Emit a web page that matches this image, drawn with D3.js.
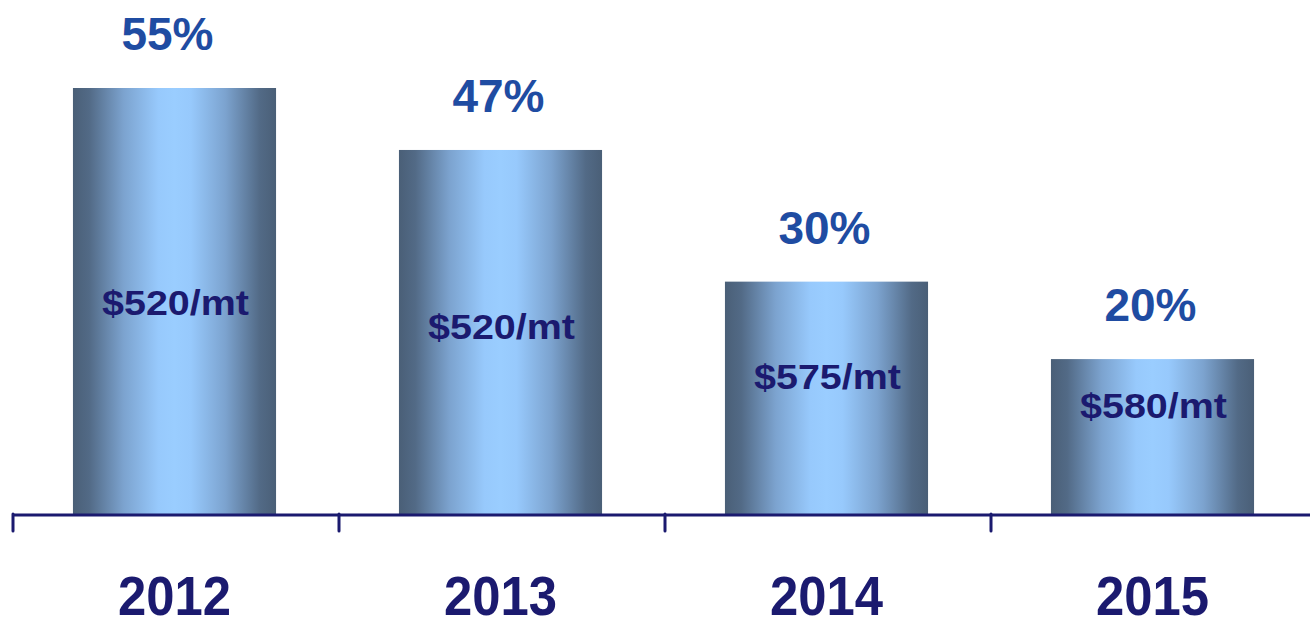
<!DOCTYPE html>
<html>
<head>
<meta charset="utf-8">
<script src="https://cdn.jsdelivr.net/npm/d3@7"></script>
<style>
  html, body { margin: 0; padding: 0; background: #ffffff; }
  svg { display: block; }
  text { font-family: Arial, "Liberation Sans", Helvetica, sans-serif; font-weight: bold; }
</style>
</head>
<body>
<svg id="chart" width="1310" height="622"></svg>
<script>
// Share of volume by year, with the average price per metric ton
const years = ["2012", "2013", "2014", "2015"];
const shares = [55, 47, 30, 20];
const prices = ["$520/mt", "$520/mt", "$575/mt", "$580/mt"];

const W = 1310, H = 622;
const svg = d3.select("#chart");

const x = d3.scaleBand().domain(years).range([13, 1317]).padding(0);
const y = d3.scaleLinear().domain([0, 55]).range([514, 88]);

const barW = x.bandwidth() * 0.623;
const navy = "#1b1a6f";
const blue = "#1f4ca2";

// Cylinder-like horizontal shading for the bars
const defs = svg.append("defs");
const grad = defs.append("linearGradient")
  .attr("id", "barShade").attr("x1", "0%").attr("x2", "100%").attr("y1", "0%").attr("y2", "0%");
[
  [0, "#4a5f77"], [0.08, "#526a86"], [0.25, "#7ca3cf"], [0.42, "#97c9fc"],
  [0.5, "#9acdff"], [0.58, "#97c9fc"], [0.75, "#7ca3cf"], [0.92, "#526a86"], [1, "#4a5f77"]
].forEach(([o, c]) => grad.append("stop").attr("offset", o).attr("stop-color", c));

const cx = d => x(d) + x.bandwidth() / 2 - 1.5;

// Bars
svg.append("g").selectAll("rect")
  .data(years)
  .join("rect")
  .attr("x", d => cx(d) - barW / 2)
  .attr("y", (d, i) => y(shares[i]))
  .attr("width", barW)
  .attr("height", (d, i) => y(0) - y(shares[i]))
  .attr("fill", "url(#barShade)");

// Axis: baseline with ticks at the category boundaries
const axis = svg.append("g");
axis.append("line")
  .attr("x1", x.range()[0]).attr("x2", W)
  .attr("y1", y(0) + 1).attr("y2", y(0) + 1)
  .attr("stroke", navy).attr("stroke-width", 3);
axis.selectAll("line.tick")
  .data(years.map(d => x(d)).concat([x.range()[1]]))
  .join("line")
  .attr("class", "tick")
  .attr("x1", d => d).attr("x2", d => d)
  .attr("y1", y(0)).attr("y2", y(0) + 17)
  .attr("stroke", navy).attr("stroke-width", 3).attr("stroke-linecap", "round");

// Year labels
svg.append("g").selectAll("text")
  .data(years)
  .join("text")
  .attr("x", d => cx(d))
  .attr("y", 615)
  .attr("text-anchor", "middle")
  .attr("font-size", 56)
  .attr("textLength", 113)
  .attr("lengthAdjust", "spacingAndGlyphs")
  .attr("fill", navy)
  .text(d => d);

// Share labels above the bars
svg.append("g").selectAll("text")
  .data(years)
  .join("text")
  .attr("x", (d, i) => cx(d) - (i === 0 ? 7 : 2))
  .attr("y", (d, i) => y(shares[i]) - 38)
  .attr("text-anchor", "middle")
  .attr("font-size", 46)
  .attr("fill", blue)
  .text((d, i) => shares[i] + "%");

// Price labels inside the bars
svg.append("g").selectAll("text")
  .data(years)
  .join("text")
  .attr("x", d => cx(d) + 1)
  .attr("y", (d, i) => {
    const h = y(0) - y(shares[i]);
    return y(0) - 0.38 * h - 37;
  })
  .attr("text-anchor", "middle")
  .attr("font-size", 35)
  .attr("textLength", 147)
  .attr("lengthAdjust", "spacingAndGlyphs")
  .attr("fill", navy)
  .text((d, i) => prices[i]);
</script>
</body>
</html>
